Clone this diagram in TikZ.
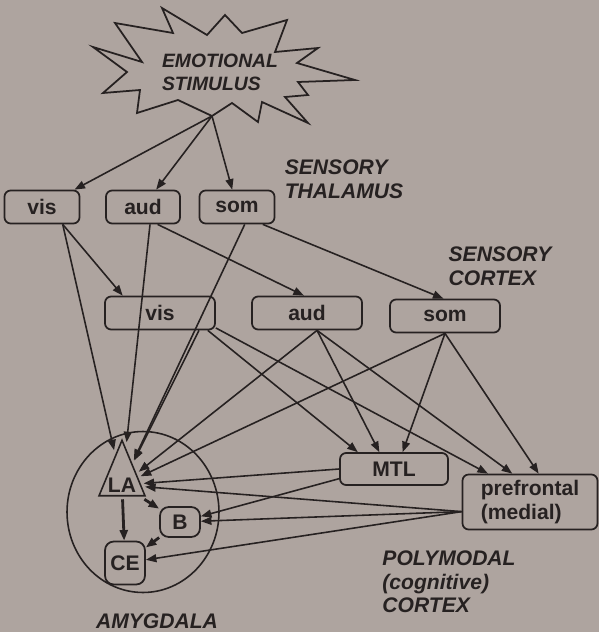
\documentclass[tikz,border=0pt]{standalone}
\usepackage{fontspec}
\setmainfont{Liberation Sans}
\usetikzlibrary{arrows.meta,shapes.geometric}

\definecolor{paper}{RGB}{174,164,159}
\definecolor{ink}{RGB}{38,33,33}

\tikzset{
  box/.style={draw,rounded corners=3.5pt,line width=1pt,minimum height=0.66cm,
    inner sep=1pt,font=\fontsize{12}{14}\selectfont\bfseries},
  tag/.style={align=left,font=\fontsize{12}{13.5}\selectfont\bfseries\itshape},
  >={Triangle[length=6pt,width=4.5pt]},
}

\begin{document}
\begin{tikzpicture}[x=0.02cm,y=-0.02cm,color=ink,line width=0.9pt]
      \fill[paper] (0,0) rectangle (599,632);
      \useasboundingbox (0,0) rectangle (599,632);

      % the stimulus burst
      \draw[line width=1pt] (162,8) -- (207,35) -- (225,15) -- (242,33) -- (287,20)
        -- (275,52) -- (318,48) -- (297,63) -- (355,80) -- (298,82) -- (308,95)
        -- (285,97) -- (308,123) -- (262,102) -- (258,122) -- (232,103) -- (212,116)
        -- (178,100) -- (137,113) -- (140,90) -- (103,93) -- (127,72) -- (93,47)
        -- (142,62) -- (115,23) -- (173,33) -- cycle;
      \coordinate (0) at (212,116);
      \node[tag,font=\fontsize{11}{13}\selectfont\bfseries\itshape] (1) at (220,72) {EMOTIONAL\\STIMULUS};

      % thalamus
      \node[box,minimum width=1.5cm] (2) at (42,207) {vis};
      \node[box,minimum width=1.48cm] (3) at (143,207) {aud};
      \node[box,minimum width=1.5cm] (4) at (237,207) {som};
      \node[tag] (13) at (344,179) {SENSORY\\THALAMUS};

      % cortex
      \node[box,minimum width=2.2cm] (5) at (160,313) {vis};
      \node[box,minimum width=2.2cm] (6) at (307,313) {aud};
      \node[box,minimum width=2.2cm] (7) at (445,316) {som};
      \node[tag] (14) at (500,266) {SENSORY\\CORTEX};

      \node[box,minimum width=2.16cm,minimum height=0.64cm] (8) at (394,469) {MTL};
      \node[box,minimum width=2.7cm,minimum height=1.1cm,align=left] (9) at (530,502) {prefrontal\\(medial)};
      \node[tag] (15) at (449,582) {POLYMODAL\\(cognitive)\\CORTEX};

      % amygdala
      \node[draw,ellipse,minimum width=3.04cm,minimum height=3.22cm] (16) at (143,512) {};
      \node[draw,isosceles triangle,shape border rotate=90,isosceles triangle apex angle=45,
        inner xsep=0pt,inner ysep=2pt,outer sep=2pt,
        font=\fontsize{12}{14}\selectfont\bfseries] (10) at (122,485) {LA};
      \node[box,minimum width=0.8cm,minimum height=0.6cm,rounded corners=5pt] (11) at (180,522) {B};
      \node[box,minimum width=0.8cm,minimum height=0.86cm,rounded corners=5pt] (12) at (125,563) {CE};
      \node[tag] (17) at (157,621) {AMYGDALA};

      \draw[->] (0) -- (2);
      \draw[->] (0) -- (3);
      \draw[->] (0) -- (4);

      \draw[->] (2.-40) -- (5.155);
      \draw[->] (2.-40) -- (10);
      \draw[->] (3.-68) -- (10);
      \draw[->] (3.-50) -- (6.100);
      \draw[->] (4.-66) -- (10);
      \draw[->] (4.-34) -- (7.95);

      \draw[->] (5.-24) -- (10);
      \draw[->] (5.-20) -- (8.155);
      \draw[->] (5.-15) -- (9.146);
      \draw[->] (6.-60) -- (10);
      \draw[->] (6.-60) -- (8.131);
      \draw[->] (6.-60) -- (9.122);
      \draw[->] (7.-90) -- (10);
      \draw[->] (7.-90) -- (8.63);
      \draw[->] (7.-90) -- (9.73);

      \draw[->] (8.180) -- (10);
      \draw[->] (8.190) -- (11);
      \draw[->] (9.188) -- (10);
      \draw[->] (9.188) -- (11);
      \draw[->] (9.188) -- (12);

      %% inside the amygdala
      \draw[->,line width=1.6pt] (10) -- (12);
      \draw[->,line width=1.6pt] (10) -- (11);
      \draw[->,line width=1.6pt] (11) -- (12);
    \end{tikzpicture}
\end{document}
